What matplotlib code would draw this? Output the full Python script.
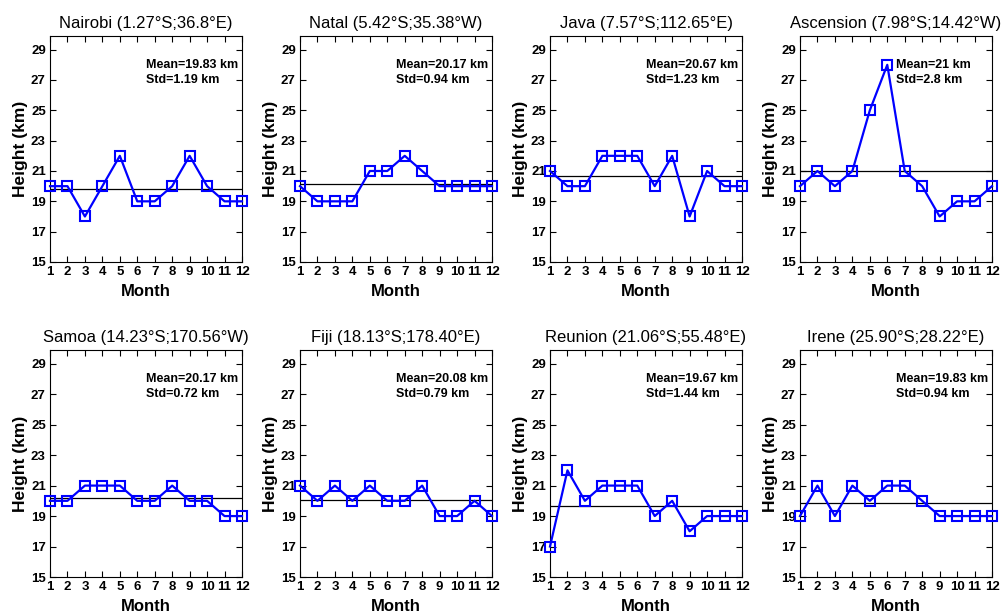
import numpy as np
import matplotlib
matplotlib.use('Agg')
import matplotlib.pyplot as plt

plt.rcParams['font.family'] = ['Liberation Sans', 'DejaVu Sans']

months = list(range(1, 13))

stations = ['Nairobi (1.27°S;36.8°E)', 'Natal (5.42°S;35.38°W)',
            'Java (7.57°S;112.65°E)', 'Ascension (7.98°S;14.42°W)',
            'Samoa (14.23°S;170.56°W)', 'Fiji (18.13°S;178.40°E)',
            'Reunion (21.06°S;55.48°E)', 'Irene (25.90°S;28.22°E)']

nairobi = [20, 20, 18, 20, 22, 19, 19, 20, 22, 20, 19, 19]
natal = [20, 19, 19, 19, 21, 21, 22, 21, 20, 20, 20, 20]
java = [21, 20, 20, 22, 22, 22, 20, 22, 18, 21, 20, 20]
ascension = [20, 21, 20, 21, 25, 28, 21, 20, 18, 19, 19, 20]
samoa = [20, 20, 21, 21, 21, 20, 20, 21, 20, 20, 19, 19]
fiji = [21, 20, 21, 20, 21, 20, 20, 21, 19, 19, 20, 19]
reunion = [17, 22, 20, 21, 21, 21, 19, 20, 18, 19, 19, 19]
irene = [19, 21, 19, 21, 20, 21, 21, 20, 19, 19, 19, 19]

heights = [nairobi, natal, java, ascension, samoa, fiji, reunion, irene]
means = [19.83, 20.17, 20.67, 21, 20.17, 20.08, 19.67, 19.83]
stds = [1.19, 0.94, 1.23, 2.8, 0.72, 0.79, 1.44, 0.94]

fig = plt.figure(figsize=(10.02, 6.15), dpi=100)

W, H = 1002.0, 615.0
lefts = [50, 300, 550, 800]
rows = [(36, 262), (350, 577)]

for i, name in enumerate(stations):
    r, c = divmod(i, 4)
    top, bot = rows[r]
    ax = fig.add_axes([lefts[c] / W, 1 - bot / H, 192 / W, (bot - top) / H])

    ax.plot([1, 12], [means[i], means[i]], color='black', linewidth=0.9)
    ax.plot(months, heights[i], color='blue', linewidth=1.6, marker='s',
            markersize=6.5, markerfacecolor='none', markeredgecolor='blue',
            markeredgewidth=1.5, clip_on=False, zorder=3)

    ax.set_xlim(1, 12)
    ax.set_ylim(15, 29.9)
    ax.set_xticks(months)
    ax.set_yticks([15, 17, 19, 21, 23, 25, 27, 29])
    ax.tick_params(direction='in', top=True, right=True, length=4,
                   labelsize=9.5, pad=3)
    for lab in ax.get_xticklabels() + ax.get_yticklabels():
        lab.set_fontweight('bold')

    ax.set_title(name, fontsize=12, pad=6)
    ax.set_xlabel('Month', fontsize=12, fontweight='bold', labelpad=4)
    ax.set_ylabel('Height (km)', fontsize=12.5, fontweight='bold', labelpad=2)

    ax.text(0.5, 28.0, f'Mean={means[i]:g} km', transform=ax.get_yaxis_transform(),
            fontsize=9, fontweight='bold', va='center', ha='left')
    ax.text(0.5, 27.0, f'Std={stds[i]:g} km', transform=ax.get_yaxis_transform(),
            fontsize=9, fontweight='bold', va='center', ha='left')

plt.savefig('out.png', dpi=100)
